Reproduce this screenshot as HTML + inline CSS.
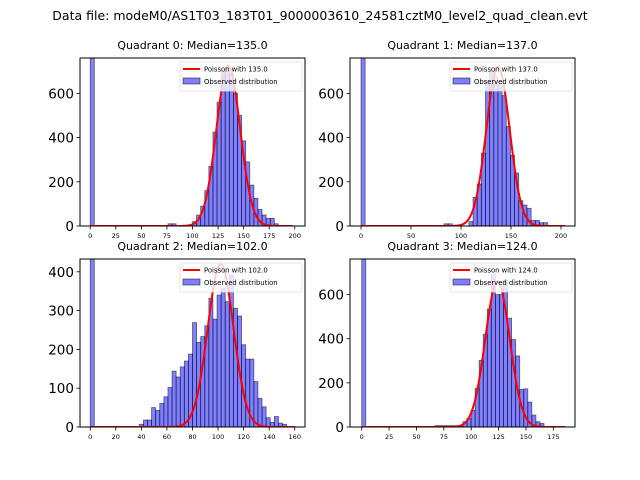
<!DOCTYPE html>
<html><head><meta charset="utf-8"><style>
body{margin:0;background:#fff;}
svg{display:block;font-family:"DejaVu Sans","Liberation Sans",sans-serif;}
</style></head><body>
<svg id="fig" width="640" height="480" viewBox="0 0 640 480">
<rect width="640" height="480" fill="#fff"/>
<text x="320" y="20" font-size="12.5" text-anchor="middle">Data file: modeM0/AS1T03_183T01_9000003610_24581cztM0_level2_quad_clean.evt</text>
</svg>
<script>
// ---- data ----
const q0Counts = {0:5000,19:10,20:10,25:20,26:50,27:90,28:160,29:270,30:425,31:560,32:700,33:720,34:690,35:600,36:500,37:385,38:290,39:185,40:125,41:75,42:50,43:35,44:35,45:10};
const q1Counts = {0:5000,20:10,21:10,26:20,27:130,28:190,29:330,30:660,31:700,32:675,33:645,34:590,35:450,36:320,37:240,38:115,39:95,40:80,41:25,42:25,43:15,44:15};
const q2Counts = {0:5000,12:7,13:18,14:18,15:50,16:43,17:61,18:78,19:102,20:144,21:129,22:155,23:170,24:188,25:269,26:218,27:233,28:261,29:332,30:278,31:340,32:358,33:323,34:392,35:306,36:286,37:212,38:175,39:175,40:117,41:74,42:52,43:24,44:12,45:27,46:10,47:7};
const q3Counts = {0:5000,18:6,19:6,20:6,21:6,22:6,23:6,24:6,25:24,26:40,27:76,28:176,29:302,30:420,31:535,32:690,33:600,34:600,35:665,36:493,37:396,38:322,39:170,40:173,41:113,42:54,43:24,44:16};
const medians = [135.0, 137.0, 102.0, 124.0];
const curvePeaks = [725, 720, 420, 660];
const binWidths = [4.0, 4.15, 3.2, 3.7];
const xTicks = [[0,25,50,75,100,125,150,175,200],[0,50,100,150,200],[0,20,40,60,80,100,120,140,160],[0,25,50,75,100,125,150,175]];
const yTicks = [[0,200,400,600],[0,200,400,600],[0,100,200,300,400],[0,200,400,600]];
const xMax = [198, 204, 160, 186];
// ---- layout ----
const panels = [
 {x:80,y:58,w:225,h:168,xmin:-10,xmax:210,ymax:760,counts:q0Counts},
 {x:350,y:58,w:225,h:168,xmin:-11,xmax:214,ymax:760,counts:q1Counts},
 {x:80,y:259,w:225,h:168,xmin:-8,xmax:168,ymax:433,counts:q2Counts},
 {x:350,y:259,w:225,h:168,xmin:-10.7,xmax:194.8,ymax:761,counts:q3Counts},
];
const NS="http://www.w3.org/2000/svg";
const svg=document.getElementById('fig');
function mk(tag,attrs,parent){const e=document.createElementNS(NS,tag);for(const k in attrs)e.setAttribute(k,attrs[k]);(parent||svg).appendChild(e);return e;}
panels.forEach((p,qi)=>{
 const g=mk('g',{});
 
 
 const sx=v=>p.x+(v-p.xmin)/(p.xmax-p.xmin)*p.w;
 const sy=v=>p.y+p.h-v/p.ymax*p.h;
 const cid='clip'+qi;
 const cp=mk('clipPath',{id:cid},g);mk('rect',{x:p.x,y:p.y,width:p.w,height:p.h},cp);
 const bars=mk('g',{'clip-path':'url(#'+cid+')'},g);
 const bw=binWidths[qi];
 for(const k in p.counts){
  const i=+k,c=p.counts[k];
  const r=mk('rect',{x:sx(i*bw),y:sy(c),width:sx((i+1)*bw)-sx(i*bw),height:sy(0)-sy(c),fill:'rgba(0,0,255,0.5)',stroke:'rgba(0,0,0,0.55)','stroke-width':0.8},bars);
  
  
 }
 const lam=medians[qi];let d='';
 for(let x=0;x<=xMax[qi];x+=0.5){const v=curvePeaks[qi]*Math.exp(-(x-lam)*(x-lam)/(2*lam));d+=(d?'L':'M')+sx(x).toFixed(2)+','+sy(v).toFixed(2);}
 const cur=mk('path',{d:d,fill:'none',stroke:'#f00','stroke-width':2},bars);
 
 
 const fr=mk('rect',{x:p.x,y:p.y,width:p.w,height:p.h,fill:'none',stroke:'#000','stroke-width':1},g);
 
 
 xTicks[qi].forEach(t=>{const X=sx(t);mk('line',{x1:X,x2:X,y1:p.y+p.h,y2:p.y+p.h+3.5,stroke:'#000','stroke-width':0.8},g);
  const tx=mk('text',{x:X,y:p.y+p.h+12,'font-size':6.5,'text-anchor':'middle'},g);tx.textContent=t;
  
  });
 yTicks[qi].forEach(t=>{const Y=sy(t);mk('line',{x1:p.x-3.5,x2:p.x,y1:Y,y2:Y,stroke:'#000','stroke-width':0.8},g);
  const tx=mk('text',{x:p.x-6,y:Y+5,'font-size':13.5,'text-anchor':'end'},g);tx.textContent=t;
  
  });
 const ti=mk('text',{x:p.x+p.w/2,y:p.y-9,'font-size':11,'text-anchor':'middle'},g);
 ti.textContent='Quadrant '+qi+': Median='+medians[qi].toFixed(1);
 
 
 const lx=p.x+p.w-125,ly=p.y+4;
 const lg=mk('g',{},g);
 
 
 mk('rect',{x:lx,y:ly,width:122,height:29,rx:2,fill:'rgba(255,255,255,0.8)',stroke:'#ddd','stroke-width':0.8},lg);
 mk('line',{x1:lx+3,x2:lx+20,y1:ly+7,y2:ly+7,stroke:'#f00','stroke-width':2},lg);
 const t1=mk('text',{x:lx+24,y:ly+9.5,'font-size':6.8},lg);t1.textContent='Poisson with '+medians[qi].toFixed(1);
 
 
 mk('rect',{x:lx+3,y:ly+16,width:17,height:6,fill:'rgba(0,0,255,0.5)',stroke:'rgba(0,0,0,0.6)','stroke-width':0.8},lg);
 const t2=mk('text',{x:lx+24,y:ly+22,'font-size':6.8},lg);t2.textContent='Observed distribution';
 
 
});
</script>
</body></html>
